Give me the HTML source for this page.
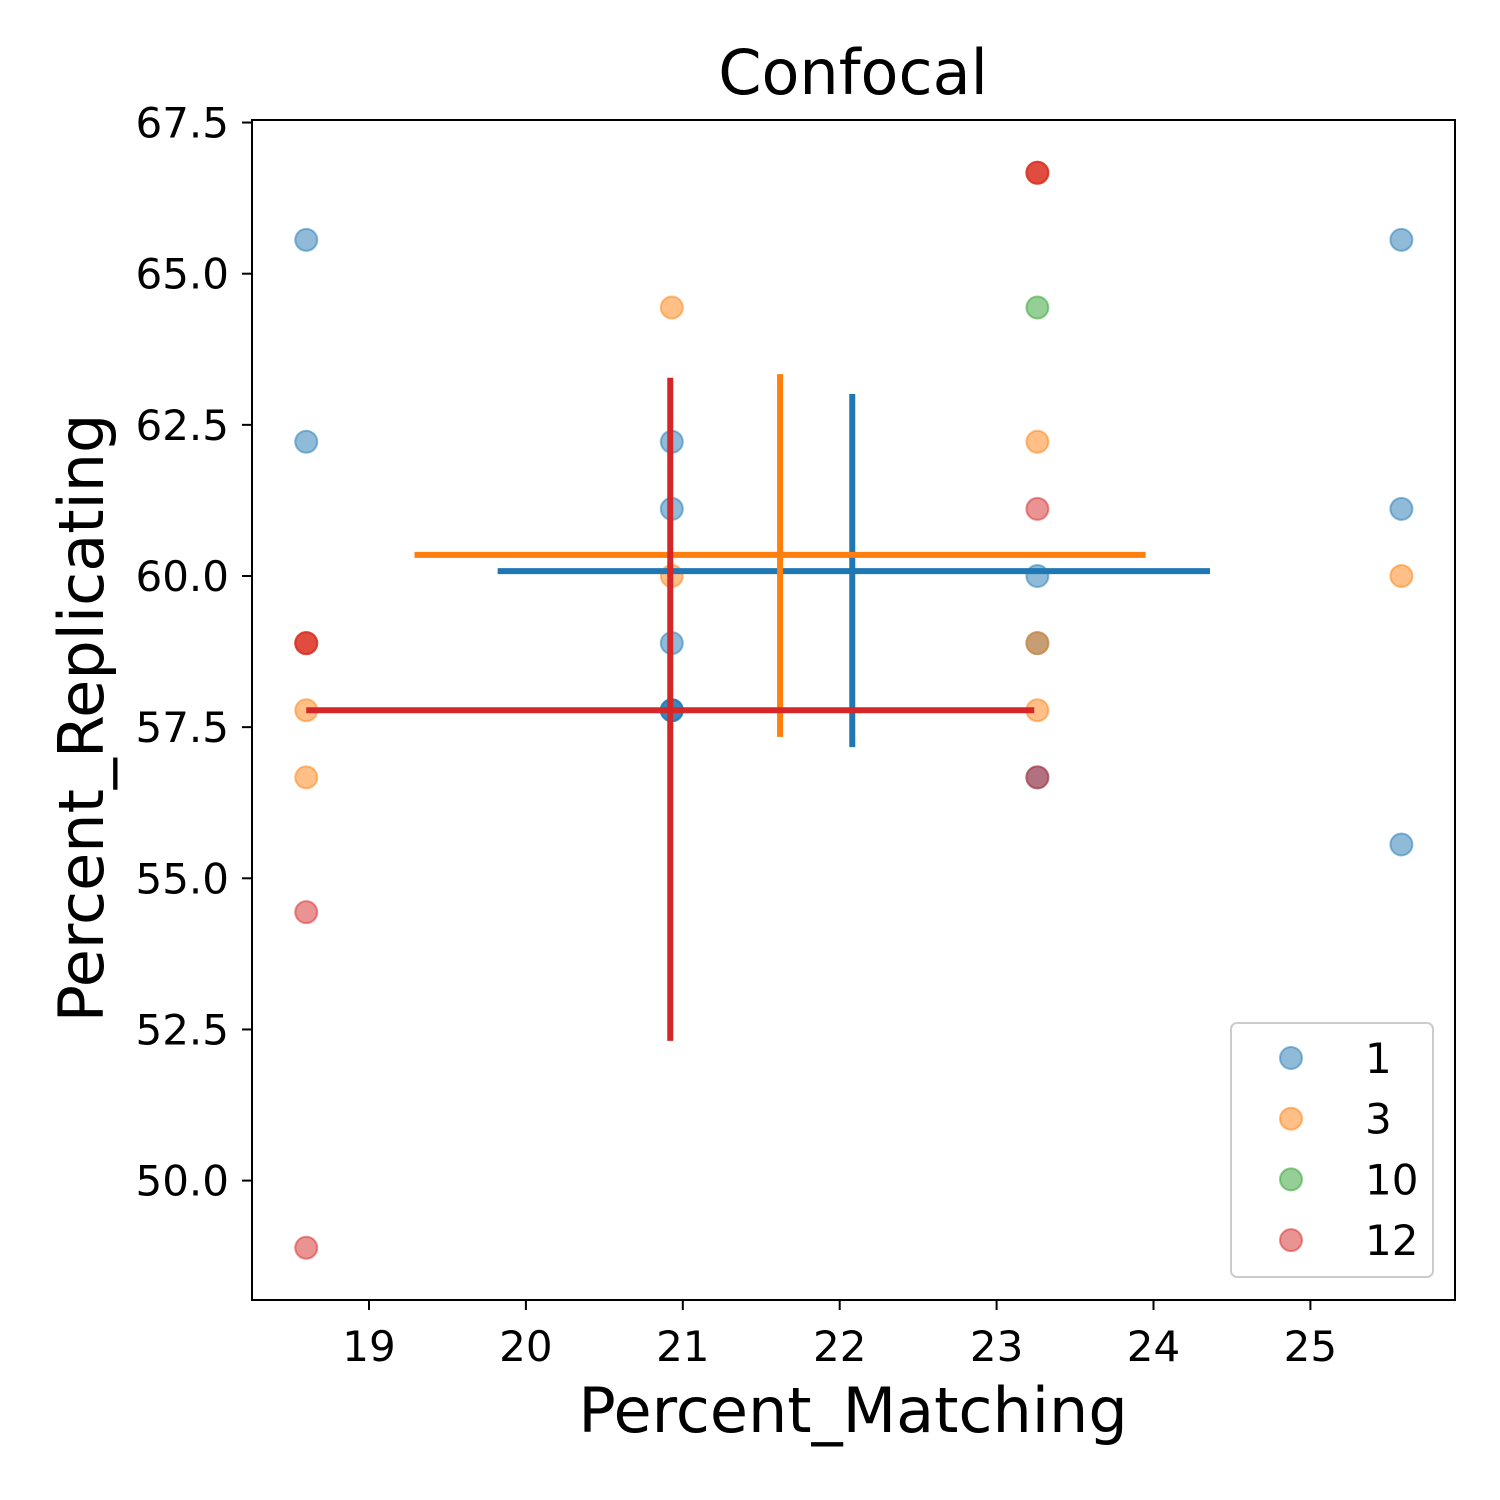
<!DOCTYPE html>
<html><head><meta charset="utf-8"><style>body{margin:0;background:#fff}svg{display:block;font-family:"DejaVu Sans","Liberation Sans",sans-serif}</style></head>
<body>
<svg id="chart" width="1500" height="1500" viewBox="0 0 1500 1500">
<rect x="0" y="0" width="1500" height="1500" fill="#fff"/>
<g id="marks"></g>
<rect x="252" y="120" width="1203" height="1180" fill="none" stroke="#000" stroke-width="2"/>
<g id="axes"></g>
<text x="853" y="94" font-size="62" text-anchor="middle">Confocal</text>
<text x="853" y="1432" font-size="62" text-anchor="middle">Percent_Matching</text>
<text x="103" y="718" font-size="62" text-anchor="middle" transform="rotate(-90 103 718)">Percent_Replicating</text>
<g>
<rect x="1231" y="1023" width="202" height="254" rx="6" fill="#fff" fill-opacity="0.8" stroke="#ccc" stroke-width="2"/>
<g id="legend-items"></g>
</g>
</svg>
<script>
const seriesNames = ["1","3","10","12"];
const seriesColors = ["#1f77b4","#ff7f0e","#2ca02c","#d62728"];
const xs1 = [18.6,18.6,20.93,20.93,20.93,20.93,20.93,20.93,23.26,23.26,23.26,25.58,25.58,25.58];
const ys1 = [65.56,62.22,62.22,61.11,58.89,57.78,57.78,57.78,60.0,58.89,56.67,65.56,61.11,55.56];
const xs3 = [18.6,18.6,18.6,20.93,20.93,23.26,23.26,23.26,23.26,25.58];
const ys3 = [57.78,56.67,58.89,64.44,60.0,62.22,57.78,58.89,66.67,60.0];
const xs10 = [23.26];
const ys10 = [64.44];
const xs12 = [18.6,18.6,18.6,18.6,23.26,23.26,23.26,23.26];
const ys12 = [58.89,58.89,54.44,48.89,66.67,66.67,61.11,56.67];
const meanX = [22.08,21.62,null,20.92];
const meanY = [60.08,60.35,null,57.78];
const xErrLo = [19.82,19.29,null,18.6];
const xErrHi = [24.36,23.95,null,23.24];
const yErrLo = [57.17,57.34,null,52.31];
const yErrHi = [63.01,63.34,null,63.28];
const xTicks = [19,20,21,22,23,24,25];
const yTicks = [50.0,52.5,55.0,57.5,60.0,62.5,65.0,67.5];
const NS="http://www.w3.org/2000/svg";
const X = v => 369 + (v-19)*156.9;
const Y = v => 576 - (v-60)*60.46;
function mk(t,a,p){const e=document.createElementNS(NS,t);for(const k in a)e.setAttribute(k,a[k]);p.appendChild(e);return e;}
const marks=document.getElementById('marks');
const allX=[xs1,xs3,xs10,xs12], allY=[ys1,ys3,ys10,ys12];
allX.forEach((xs,s)=>{
  xs.forEach((x,i)=>{
    const c=mk('circle',{cx:X(x),cy:Y(allY[s][i]),r:11,fill:seriesColors[s],'fill-opacity':0.5,stroke:seriesColors[s],'stroke-opacity':0.5,'stroke-width':2},marks);
    
    
  });
});
meanX.forEach((mx,s)=>{
  if(mx===null)return;
  const h=mk('line',{x1:X(xErrLo[s]),x2:X(xErrHi[s]),y1:Y(meanY[s]),y2:Y(meanY[s]),stroke:seriesColors[s],'stroke-width':6},marks);
  
  
  const v=mk('line',{x1:X(mx),x2:X(mx),y1:Y(yErrLo[s]),y2:Y(yErrHi[s]),stroke:seriesColors[s],'stroke-width':6},marks);
  
  
});
const axes=document.getElementById('axes');
xTicks.forEach(t=>{
  mk('line',{x1:X(t),x2:X(t),y1:1300,y2:1310,stroke:'#000','stroke-width':2},axes);
  const e=mk('text',{x:X(t),y:1361,'font-size':42,'text-anchor':'middle'},axes);e.textContent=t;
  
  
});
yTicks.forEach(t=>{
  mk('line',{x1:242,x2:252,y1:Y(t),y2:Y(t),stroke:'#000','stroke-width':2},axes);
  const e=mk('text',{x:229,y:Y(t)+15,'font-size':42,'text-anchor':'end'},axes);e.textContent=t.toFixed(1);
  
  
});
const leg=document.getElementById('legend-items');
seriesNames.forEach((n,i)=>{
  const y=1058+i*60.7;
  const c=mk('circle',{cx:1291,cy:y,r:11,fill:seriesColors[i],'fill-opacity':0.5,stroke:seriesColors[i],'stroke-opacity':0.5,'stroke-width':2},leg);
  
  
  const t=mk('text',{x:1365,y:y+15,'font-size':42},leg);t.textContent=n;
  
  
});
</script>
</body></html>
